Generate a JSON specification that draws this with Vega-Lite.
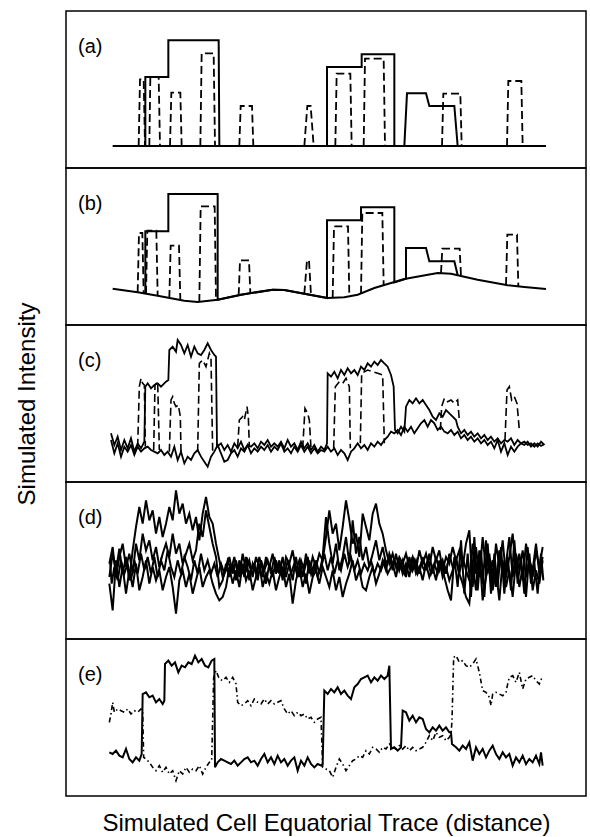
{
"$schema": "https://vega.github.io/schema/vega-lite/v6.json",
"background": "white",
"padding": {"left": 14, "top": 10, "right": 5, "bottom": 0},
"spacing": 0,
"bounds": "flush",
"config": {"view": {"stroke": "black", "strokeWidth": 1.5}, "font": "Liberation Sans"},
"datasets": {
"a_solid": [
{"line":"base","x":140,"y":66},{"line":"base","x":1440,"y":66},
{"line":"t","x":238,"y":66},{"line":"t","x":238,"y":273},{"line":"t","x":307,"y":273},{"line":"t","x":307,"y":383},{"line":"t","x":458,"y":383},{"line":"t","x":460,"y":66},{"line":"t","x":783,"y":66},{"line":"t","x":783,"y":303},{"line":"t","x":887,"y":303},{"line":"t","x":887,"y":341},{"line":"t","x":985,"y":341},{"line":"t","x":985,"y":66},{"line":"t","x":1015,"y":66},{"line":"t","x":1023,"y":224},{"line":"t","x":1080,"y":224},{"line":"t","x":1090,"y":186},{"line":"t","x":1165,"y":186},{"line":"t","x":1175,"y":66}
],
"a_dash": [
{"line":"p1","x":218,"y":66},{"line":"p1","x":222,"y":266},{"line":"p1","x":233,"y":266},{"line":"p1","x":237,"y":66},
{"line":"p2","x":250,"y":66},{"line":"p2","x":253,"y":273},{"line":"p2","x":278,"y":273},{"line":"p2","x":282,"y":66},
{"line":"p3","x":312,"y":66},{"line":"p3","x":316,"y":226},{"line":"p3","x":343,"y":226},{"line":"p3","x":347,"y":66},
{"line":"p4","x":403,"y":66},{"line":"p4","x":407,"y":344},{"line":"p4","x":443,"y":344},{"line":"p4","x":447,"y":66},
{"line":"p5","x":520,"y":66},{"line":"p5","x":524,"y":186},{"line":"p5","x":558,"y":186},{"line":"p5","x":562,"y":66},
{"line":"p6","x":715,"y":66},{"line":"p6","x":724,"y":186},{"line":"p6","x":734,"y":186},{"line":"p6","x":743,"y":66},
{"line":"p7","x":808,"y":66},{"line":"p7","x":812,"y":283},{"line":"p7","x":853,"y":283},{"line":"p7","x":857,"y":66},
{"line":"p8","x":893,"y":66},{"line":"p8","x":897,"y":328},{"line":"p8","x":953,"y":328},{"line":"p8","x":957,"y":66},
{"line":"p9","x":1128,"y":66},{"line":"p9","x":1132,"y":223},{"line":"p9","x":1183,"y":223},{"line":"p9","x":1187,"y":66},
{"line":"p10","x":1323,"y":66},{"line":"p10","x":1327,"y":261},{"line":"p10","x":1366,"y":261},{"line":"p10","x":1370,"y":66}
],
"b_solid": [
{"line":"base","x":140,"y":109},{"line":"base","x":215,"y":98},{"line":"base","x":275,"y":88},{"line":"base","x":355,"y":73},{"line":"base","x":395,"y":69},{"line":"base","x":455,"y":76},{"line":"base","x":525,"y":91},{"line":"base","x":620,"y":106},{"line":"base","x":655,"y":105},{"line":"base","x":715,"y":94},{"line":"base","x":785,"y":81},{"line":"base","x":835,"y":83},{"line":"base","x":875,"y":91},{"line":"base","x":925,"y":111},{"line":"base","x":1015,"y":138},{"line":"base","x":1115,"y":156},{"line":"base","x":1155,"y":154},{"line":"base","x":1235,"y":136},{"line":"base","x":1325,"y":119},{"line":"base","x":1375,"y":114},{"line":"base","x":1440,"y":108},
{"line":"t","x":238,"y":94},{"line":"t","x":238,"y":281},{"line":"t","x":307,"y":281},{"line":"t","x":307,"y":393},{"line":"t","x":455,"y":393},{"line":"t","x":455,"y":76},{"line":"t","x":525,"y":91},{"line":"t","x":620,"y":106},{"line":"t","x":655,"y":105},{"line":"t","x":715,"y":94},{"line":"t","x":783,"y":81},{"line":"t","x":783,"y":314},{"line":"t","x":885,"y":314},{"line":"t","x":885,"y":353},{"line":"t","x":985,"y":353},{"line":"t","x":985,"y":128},{"line":"t","x":1020,"y":139},{"line":"t","x":1020,"y":231},{"line":"t","x":1080,"y":231},{"line":"t","x":1090,"y":191},{"line":"t","x":1165,"y":191},{"line":"t","x":1175,"y":150}
],
"b_dash": [
{"line":"p1","x":215,"y":98},{"line":"p1","x":219,"y":276},{"line":"p1","x":229,"y":276},{"line":"p1","x":233,"y":95},
{"line":"p2","x":240,"y":94},{"line":"p2","x":244,"y":283},{"line":"p2","x":271,"y":283},{"line":"p2","x":275,"y":88},
{"line":"p3","x":310,"y":81},{"line":"p3","x":314,"y":238},{"line":"p3","x":339,"y":238},{"line":"p3","x":343,"y":75},
{"line":"p4","x":400,"y":69},{"line":"p4","x":404,"y":356},{"line":"p4","x":446,"y":356},{"line":"p4","x":450,"y":75},
{"line":"p5","x":518,"y":89},{"line":"p5","x":522,"y":194},{"line":"p5","x":549,"y":194},{"line":"p5","x":553,"y":96},
{"line":"p6","x":715,"y":94},{"line":"p6","x":723,"y":194},{"line":"p6","x":729,"y":194},{"line":"p6","x":735,"y":90},
{"line":"p7","x":800,"y":81},{"line":"p7","x":804,"y":296},{"line":"p7","x":846,"y":296},{"line":"p7","x":850,"y":85},
{"line":"p8","x":885,"y":94},{"line":"p8","x":889,"y":336},{"line":"p8","x":949,"y":336},{"line":"p8","x":953,"y":119},
{"line":"p9","x":1125,"y":156},{"line":"p9","x":1129,"y":229},{"line":"p9","x":1181,"y":229},{"line":"p9","x":1185,"y":147},
{"line":"p10","x":1320,"y":120},{"line":"p10","x":1324,"y":271},{"line":"p10","x":1353,"y":271},{"line":"p10","x":1357,"y":116}
],
"c_solid": [
{"line":"c1","x":135,"y":146},{"line":"c1","x":145,"y":111},{"line":"c1","x":155,"y":136},{"line":"c1","x":165,"y":96},{"line":"c1","x":175,"y":126},{"line":"c1","x":185,"y":101},{"line":"c1","x":195,"y":131},{"line":"c1","x":205,"y":91},{"line":"c1","x":215,"y":116},{"line":"c1","x":225,"y":101},{"line":"c1","x":235,"y":121},{"line":"c1","x":238,"y":286},{"line":"c1","x":245,"y":296},{"line":"c1","x":255,"y":281},{"line":"c1","x":265,"y":291},{"line":"c1","x":275,"y":296},{"line":"c1","x":285,"y":286},{"line":"c1","x":300,"y":301},{"line":"c1","x":307,"y":306},{"line":"c1","x":310,"y":396},{"line":"c1","x":320,"y":406},{"line":"c1","x":330,"y":391},{"line":"c1","x":335,"y":426},{"line":"c1","x":345,"y":411},{"line":"c1","x":355,"y":386},{"line":"c1","x":365,"y":411},{"line":"c1","x":375,"y":376},{"line":"c1","x":385,"y":406},{"line":"c1","x":395,"y":386},{"line":"c1","x":405,"y":381},{"line":"c1","x":415,"y":396},{"line":"c1","x":425,"y":416},{"line":"c1","x":435,"y":396},{"line":"c1","x":445,"y":381},{"line":"c1","x":450,"y":376},{"line":"c1","x":453,"y":106},{"line":"c1","x":465,"y":116},{"line":"c1","x":475,"y":96},{"line":"c1","x":485,"y":111},{"line":"c1","x":495,"y":91},{"line":"c1","x":505,"y":116},{"line":"c1","x":515,"y":101},{"line":"c1","x":525,"y":121},{"line":"c1","x":535,"y":96},{"line":"c1","x":545,"y":111},{"line":"c1","x":555,"y":106},{"line":"c1","x":565,"y":116},{"line":"c1","x":575,"y":101},{"line":"c1","x":585,"y":121},{"line":"c1","x":595,"y":111},{"line":"c1","x":605,"y":126},{"line":"c1","x":615,"y":106},{"line":"c1","x":625,"y":116},{"line":"c1","x":635,"y":106},{"line":"c1","x":645,"y":121},{"line":"c1","x":655,"y":101},{"line":"c1","x":665,"y":126},{"line":"c1","x":675,"y":106},{"line":"c1","x":685,"y":116},{"line":"c1","x":695,"y":96},{"line":"c1","x":705,"y":121},{"line":"c1","x":715,"y":101},{"line":"c1","x":725,"y":116},{"line":"c1","x":735,"y":96},{"line":"c1","x":745,"y":111},{"line":"c1","x":755,"y":91},{"line":"c1","x":765,"y":106},{"line":"c1","x":775,"y":96},{"line":"c1","x":783,"y":116},{"line":"c1","x":785,"y":326},{"line":"c1","x":795,"y":316},{"line":"c1","x":805,"y":331},{"line":"c1","x":815,"y":311},{"line":"c1","x":825,"y":336},{"line":"c1","x":835,"y":321},{"line":"c1","x":845,"y":341},{"line":"c1","x":855,"y":326},{"line":"c1","x":865,"y":336},{"line":"c1","x":875,"y":321},{"line":"c1","x":885,"y":346},{"line":"c1","x":895,"y":336},{"line":"c1","x":905,"y":356},{"line":"c1","x":915,"y":346},{"line":"c1","x":925,"y":361},{"line":"c1","x":935,"y":351},{"line":"c1","x":945,"y":366},{"line":"c1","x":955,"y":356},{"line":"c1","x":965,"y":346},{"line":"c1","x":975,"y":321},{"line":"c1","x":983,"y":286},{"line":"c1","x":987,"y":156},{"line":"c1","x":995,"y":146},{"line":"c1","x":1005,"y":166},{"line":"c1","x":1015,"y":151},{"line":"c1","x":1020,"y":226},{"line":"c1","x":1030,"y":246},{"line":"c1","x":1040,"y":236},{"line":"c1","x":1050,"y":251},{"line":"c1","x":1060,"y":236},{"line":"c1","x":1070,"y":246},{"line":"c1","x":1080,"y":231},{"line":"c1","x":1090,"y":216},{"line":"c1","x":1100,"y":196},{"line":"c1","x":1110,"y":186},{"line":"c1","x":1120,"y":206},{"line":"c1","x":1130,"y":196},{"line":"c1","x":1140,"y":216},{"line":"c1","x":1150,"y":206},{"line":"c1","x":1160,"y":196},{"line":"c1","x":1170,"y":186},{"line":"c1","x":1175,"y":166},{"line":"c1","x":1185,"y":146},{"line":"c1","x":1195,"y":156},{"line":"c1","x":1205,"y":141},{"line":"c1","x":1215,"y":151},{"line":"c1","x":1225,"y":136},{"line":"c1","x":1235,"y":146},{"line":"c1","x":1245,"y":131},{"line":"c1","x":1255,"y":141},{"line":"c1","x":1265,"y":126},{"line":"c1","x":1275,"y":136},{"line":"c1","x":1285,"y":121},{"line":"c1","x":1295,"y":131},{"line":"c1","x":1305,"y":116},{"line":"c1","x":1315,"y":126},{"line":"c1","x":1325,"y":121},{"line":"c1","x":1335,"y":131},{"line":"c1","x":1345,"y":111},{"line":"c1","x":1355,"y":126},{"line":"c1","x":1365,"y":116},{"line":"c1","x":1375,"y":121},{"line":"c1","x":1385,"y":111},{"line":"c1","x":1395,"y":116},{"line":"c1","x":1405,"y":106},{"line":"c1","x":1415,"y":116},{"line":"c1","x":1425,"y":108},{"line":"c1","x":1435,"y":114},
{"line":"c2","x":135,"y":126},{"line":"c2","x":145,"y":86},{"line":"c2","x":155,"y":116},{"line":"c2","x":165,"y":76},{"line":"c2","x":175,"y":106},{"line":"c2","x":185,"y":91},{"line":"c2","x":195,"y":111},{"line":"c2","x":205,"y":81},{"line":"c2","x":215,"y":106},{"line":"c2","x":225,"y":91},{"line":"c2","x":235,"y":101},{"line":"c2","x":245,"y":106},{"line":"c2","x":255,"y":96},{"line":"c2","x":265,"y":91},{"line":"c2","x":275,"y":86},{"line":"c2","x":285,"y":96},{"line":"c2","x":295,"y":81},{"line":"c2","x":305,"y":91},{"line":"c2","x":315,"y":76},{"line":"c2","x":325,"y":106},{"line":"c2","x":335,"y":66},{"line":"c2","x":345,"y":91},{"line":"c2","x":355,"y":56},{"line":"c2","x":365,"y":76},{"line":"c2","x":375,"y":66},{"line":"c2","x":385,"y":86},{"line":"c2","x":395,"y":96},{"line":"c2","x":405,"y":76},{"line":"c2","x":415,"y":61},{"line":"c2","x":425,"y":46},{"line":"c2","x":435,"y":76},{"line":"c2","x":445,"y":91},{"line":"c2","x":455,"y":111},{"line":"c2","x":465,"y":86},{"line":"c2","x":475,"y":61},{"line":"c2","x":485,"y":66},{"line":"c2","x":495,"y":86},{"line":"c2","x":505,"y":96},{"line":"c2","x":515,"y":76},{"line":"c2","x":525,"y":101},{"line":"c2","x":535,"y":91},{"line":"c2","x":545,"y":111},{"line":"c2","x":555,"y":86},{"line":"c2","x":565,"y":101},{"line":"c2","x":575,"y":91},{"line":"c2","x":585,"y":106},{"line":"c2","x":595,"y":96},{"line":"c2","x":605,"y":111},{"line":"c2","x":615,"y":91},{"line":"c2","x":625,"y":106},{"line":"c2","x":635,"y":96},{"line":"c2","x":645,"y":116},{"line":"c2","x":655,"y":91},{"line":"c2","x":665,"y":101},{"line":"c2","x":675,"y":86},{"line":"c2","x":685,"y":106},{"line":"c2","x":695,"y":91},{"line":"c2","x":705,"y":111},{"line":"c2","x":715,"y":91},{"line":"c2","x":725,"y":106},{"line":"c2","x":735,"y":86},{"line":"c2","x":745,"y":101},{"line":"c2","x":755,"y":86},{"line":"c2","x":765,"y":96},{"line":"c2","x":775,"y":91},{"line":"c2","x":785,"y":106},{"line":"c2","x":795,"y":91},{"line":"c2","x":805,"y":101},{"line":"c2","x":815,"y":81},{"line":"c2","x":825,"y":96},{"line":"c2","x":835,"y":86},{"line":"c2","x":845,"y":66},{"line":"c2","x":855,"y":91},{"line":"c2","x":865,"y":101},{"line":"c2","x":875,"y":116},{"line":"c2","x":885,"y":101},{"line":"c2","x":895,"y":111},{"line":"c2","x":905,"y":96},{"line":"c2","x":915,"y":116},{"line":"c2","x":925,"y":106},{"line":"c2","x":935,"y":121},{"line":"c2","x":945,"y":111},{"line":"c2","x":955,"y":126},{"line":"c2","x":965,"y":136},{"line":"c2","x":975,"y":151},{"line":"c2","x":985,"y":146},{"line":"c2","x":995,"y":156},{"line":"c2","x":1005,"y":141},{"line":"c2","x":1015,"y":166},{"line":"c2","x":1025,"y":151},{"line":"c2","x":1035,"y":166},{"line":"c2","x":1045,"y":146},{"line":"c2","x":1055,"y":161},{"line":"c2","x":1065,"y":176},{"line":"c2","x":1075,"y":186},{"line":"c2","x":1085,"y":166},{"line":"c2","x":1095,"y":186},{"line":"c2","x":1105,"y":176},{"line":"c2","x":1115,"y":156},{"line":"c2","x":1125,"y":166},{"line":"c2","x":1135,"y":151},{"line":"c2","x":1145,"y":146},{"line":"c2","x":1155,"y":156},{"line":"c2","x":1165,"y":141},{"line":"c2","x":1175,"y":151},{"line":"c2","x":1185,"y":131},{"line":"c2","x":1195,"y":141},{"line":"c2","x":1205,"y":126},{"line":"c2","x":1215,"y":136},{"line":"c2","x":1225,"y":121},{"line":"c2","x":1235,"y":131},{"line":"c2","x":1245,"y":116},{"line":"c2","x":1255,"y":126},{"line":"c2","x":1265,"y":111},{"line":"c2","x":1275,"y":121},{"line":"c2","x":1285,"y":101},{"line":"c2","x":1295,"y":126},{"line":"c2","x":1305,"y":91},{"line":"c2","x":1315,"y":116},{"line":"c2","x":1325,"y":81},{"line":"c2","x":1335,"y":106},{"line":"c2","x":1345,"y":91},{"line":"c2","x":1355,"y":106},{"line":"c2","x":1365,"y":116},{"line":"c2","x":1375,"y":111},{"line":"c2","x":1385,"y":121},{"line":"c2","x":1395,"y":106},{"line":"c2","x":1405,"y":116},{"line":"c2","x":1415,"y":106},{"line":"c2","x":1425,"y":121},{"line":"c2","x":1435,"y":111}
],
"c_dash": [
{"line":"p1","x":215,"y":106},{"line":"p1","x":220,"y":286},{"line":"p1","x":225,"y":311},{"line":"p1","x":230,"y":296},{"line":"p1","x":235,"y":291},{"line":"p1","x":238,"y":106},
{"line":"p2","x":263,"y":96},{"line":"p2","x":267,"y":291},{"line":"p2","x":275,"y":301},{"line":"p2","x":280,"y":96},
{"line":"p3","x":310,"y":91},{"line":"p3","x":315,"y":246},{"line":"p3","x":320,"y":256},{"line":"p3","x":325,"y":236},{"line":"p3","x":330,"y":226},{"line":"p3","x":337,"y":231},{"line":"p3","x":343,"y":196},{"line":"p3","x":345,"y":91},
{"line":"p4","x":395,"y":91},{"line":"p4","x":400,"y":356},{"line":"p4","x":410,"y":366},{"line":"p4","x":420,"y":346},{"line":"p4","x":430,"y":386},{"line":"p4","x":435,"y":371},{"line":"p4","x":440,"y":91},
{"line":"p5","x":515,"y":106},{"line":"p5","x":520,"y":186},{"line":"p5","x":530,"y":196},{"line":"p5","x":535,"y":186},{"line":"p5","x":543,"y":226},{"line":"p5","x":547,"y":196},{"line":"p5","x":550,"y":106},
{"line":"p6","x":710,"y":101},{"line":"p6","x":717,"y":221},{"line":"p6","x":725,"y":206},{"line":"p6","x":730,"y":186},{"line":"p6","x":735,"y":101},
{"line":"p7","x":803,"y":101},{"line":"p7","x":808,"y":286},{"line":"p7","x":820,"y":301},{"line":"p7","x":830,"y":296},{"line":"p7","x":840,"y":311},{"line":"p7","x":850,"y":286},{"line":"p7","x":853,"y":101},
{"line":"p8","x":883,"y":116},{"line":"p8","x":887,"y":326},{"line":"p8","x":905,"y":336},{"line":"p8","x":920,"y":331},{"line":"p8","x":935,"y":326},{"line":"p8","x":950,"y":321},{"line":"p8","x":955,"y":116},
{"line":"p9","x":1123,"y":156},{"line":"p9","x":1127,"y":226},{"line":"p9","x":1135,"y":251},{"line":"p9","x":1145,"y":241},{"line":"p9","x":1155,"y":246},{"line":"p9","x":1165,"y":236},{"line":"p9","x":1175,"y":246},{"line":"p9","x":1180,"y":186},
{"line":"p10","x":1317,"y":126},{"line":"p10","x":1323,"y":276},{"line":"p10","x":1330,"y":286},{"line":"p10","x":1337,"y":246},{"line":"p10","x":1345,"y":256},{"line":"p10","x":1353,"y":236},{"line":"p10","x":1360,"y":156}
],
"d_solid": [
{"line":"d1","x":130,"y":186},{"line":"d1","x":140,"y":256},{"line":"d1","x":150,"y":206},{"line":"d1","x":160,"y":271},{"line":"d1","x":170,"y":196},{"line":"d1","x":180,"y":246},{"line":"d1","x":190,"y":176},{"line":"d1","x":200,"y":266},{"line":"d1","x":210,"y":336},{"line":"d1","x":220,"y":396},{"line":"d1","x":230,"y":346},{"line":"d1","x":240,"y":416},{"line":"d1","x":250,"y":356},{"line":"d1","x":260,"y":386},{"line":"d1","x":270,"y":316},{"line":"d1","x":280,"y":366},{"line":"d1","x":290,"y":306},{"line":"d1","x":300,"y":346},{"line":"d1","x":310,"y":396},{"line":"d1","x":320,"y":356},{"line":"d1","x":330,"y":446},{"line":"d1","x":340,"y":376},{"line":"d1","x":350,"y":406},{"line":"d1","x":360,"y":346},{"line":"d1","x":370,"y":376},{"line":"d1","x":380,"y":326},{"line":"d1","x":390,"y":366},{"line":"d1","x":400,"y":296},{"line":"d1","x":410,"y":376},{"line":"d1","x":420,"y":426},{"line":"d1","x":430,"y":366},{"line":"d1","x":440,"y":346},{"line":"d1","x":450,"y":286},{"line":"d1","x":460,"y":236},{"line":"d1","x":470,"y":186},{"line":"d1","x":480,"y":206},{"line":"d1","x":490,"y":246},{"line":"d1","x":500,"y":196},{"line":"d1","x":510,"y":236},{"line":"d1","x":520,"y":186},{"line":"d1","x":530,"y":256},{"line":"d1","x":540,"y":206},{"line":"d1","x":550,"y":236},{"line":"d1","x":560,"y":186},{"line":"d1","x":570,"y":246},{"line":"d1","x":580,"y":216},{"line":"d1","x":590,"y":186},{"line":"d1","x":600,"y":246},{"line":"d1","x":610,"y":216},{"line":"d1","x":620,"y":256},{"line":"d1","x":630,"y":196},{"line":"d1","x":640,"y":236},{"line":"d1","x":650,"y":176},{"line":"d1","x":660,"y":246},{"line":"d1","x":670,"y":226},{"line":"d1","x":680,"y":266},{"line":"d1","x":690,"y":206},{"line":"d1","x":700,"y":236},{"line":"d1","x":710,"y":186},{"line":"d1","x":720,"y":256},{"line":"d1","x":730,"y":196},{"line":"d1","x":740,"y":246},{"line":"d1","x":750,"y":216},{"line":"d1","x":760,"y":256},{"line":"d1","x":770,"y":236},{"line":"d1","x":780,"y":306},{"line":"d1","x":790,"y":386},{"line":"d1","x":800,"y":316},{"line":"d1","x":810,"y":346},{"line":"d1","x":820,"y":266},{"line":"d1","x":830,"y":336},{"line":"d1","x":840,"y":416},{"line":"d1","x":850,"y":356},{"line":"d1","x":860,"y":286},{"line":"d1","x":870,"y":316},{"line":"d1","x":880,"y":246},{"line":"d1","x":890,"y":376},{"line":"d1","x":900,"y":336},{"line":"d1","x":910,"y":296},{"line":"d1","x":920,"y":376},{"line":"d1","x":930,"y":406},{"line":"d1","x":940,"y":346},{"line":"d1","x":950,"y":316},{"line":"d1","x":960,"y":266},{"line":"d1","x":970,"y":226},{"line":"d1","x":980,"y":256},{"line":"d1","x":990,"y":216},{"line":"d1","x":1000,"y":246},{"line":"d1","x":1010,"y":226},{"line":"d1","x":1020,"y":256},{"line":"d1","x":1030,"y":216},{"line":"d1","x":1040,"y":246},{"line":"d1","x":1050,"y":206},{"line":"d1","x":1060,"y":266},{"line":"d1","x":1070,"y":226},{"line":"d1","x":1080,"y":256},{"line":"d1","x":1090,"y":216},{"line":"d1","x":1100,"y":276},{"line":"d1","x":1110,"y":236},{"line":"d1","x":1120,"y":266},{"line":"d1","x":1130,"y":206},{"line":"d1","x":1140,"y":246},{"line":"d1","x":1150,"y":226},{"line":"d1","x":1160,"y":276},{"line":"d1","x":1170,"y":236},{"line":"d1","x":1180,"y":266},{"line":"d1","x":1190,"y":216},{"line":"d1","x":1200,"y":286},{"line":"d1","x":1210,"y":326},{"line":"d1","x":1220,"y":156},{"line":"d1","x":1230,"y":276},{"line":"d1","x":1240,"y":186},{"line":"d1","x":1250,"y":306},{"line":"d1","x":1260,"y":206},{"line":"d1","x":1270,"y":256},{"line":"d1","x":1280,"y":166},{"line":"d1","x":1290,"y":286},{"line":"d1","x":1300,"y":216},{"line":"d1","x":1310,"y":296},{"line":"d1","x":1320,"y":186},{"line":"d1","x":1330,"y":246},{"line":"d1","x":1340,"y":316},{"line":"d1","x":1350,"y":206},{"line":"d1","x":1360,"y":256},{"line":"d1","x":1370,"y":176},{"line":"d1","x":1380,"y":286},{"line":"d1","x":1390,"y":226},{"line":"d1","x":1400,"y":186},{"line":"d1","x":1410,"y":266},{"line":"d1","x":1420,"y":216},{"line":"d1","x":1430,"y":276},
{"line":"d2","x":130,"y":166},{"line":"d2","x":140,"y":86},{"line":"d2","x":150,"y":236},{"line":"d2","x":160,"y":156},{"line":"d2","x":170,"y":216},{"line":"d2","x":180,"y":136},{"line":"d2","x":190,"y":206},{"line":"d2","x":200,"y":156},{"line":"d2","x":210,"y":226},{"line":"d2","x":220,"y":146},{"line":"d2","x":230,"y":186},{"line":"d2","x":240,"y":236},{"line":"d2","x":250,"y":166},{"line":"d2","x":260,"y":216},{"line":"d2","x":270,"y":176},{"line":"d2","x":280,"y":206},{"line":"d2","x":290,"y":146},{"line":"d2","x":300,"y":186},{"line":"d2","x":310,"y":216},{"line":"d2","x":320,"y":156},{"line":"d2","x":330,"y":76},{"line":"d2","x":340,"y":176},{"line":"d2","x":350,"y":206},{"line":"d2","x":360,"y":156},{"line":"d2","x":370,"y":196},{"line":"d2","x":380,"y":136},{"line":"d2","x":390,"y":176},{"line":"d2","x":400,"y":216},{"line":"d2","x":410,"y":156},{"line":"d2","x":420,"y":186},{"line":"d2","x":430,"y":206},{"line":"d2","x":440,"y":166},{"line":"d2","x":450,"y":136},{"line":"d2","x":460,"y":116},{"line":"d2","x":470,"y":126},{"line":"d2","x":480,"y":156},{"line":"d2","x":490,"y":216},{"line":"d2","x":500,"y":166},{"line":"d2","x":510,"y":206},{"line":"d2","x":520,"y":156},{"line":"d2","x":530,"y":226},{"line":"d2","x":540,"y":176},{"line":"d2","x":550,"y":206},{"line":"d2","x":560,"y":146},{"line":"d2","x":570,"y":186},{"line":"d2","x":580,"y":226},{"line":"d2","x":590,"y":156},{"line":"d2","x":600,"y":196},{"line":"d2","x":610,"y":166},{"line":"d2","x":620,"y":206},{"line":"d2","x":630,"y":146},{"line":"d2","x":640,"y":186},{"line":"d2","x":650,"y":216},{"line":"d2","x":660,"y":156},{"line":"d2","x":670,"y":196},{"line":"d2","x":680,"y":106},{"line":"d2","x":690,"y":176},{"line":"d2","x":700,"y":216},{"line":"d2","x":710,"y":156},{"line":"d2","x":720,"y":196},{"line":"d2","x":730,"y":136},{"line":"d2","x":740,"y":186},{"line":"d2","x":750,"y":206},{"line":"d2","x":760,"y":166},{"line":"d2","x":770,"y":216},{"line":"d2","x":780,"y":186},{"line":"d2","x":790,"y":156},{"line":"d2","x":800,"y":206},{"line":"d2","x":810,"y":146},{"line":"d2","x":820,"y":186},{"line":"d2","x":830,"y":126},{"line":"d2","x":840,"y":166},{"line":"d2","x":850,"y":196},{"line":"d2","x":860,"y":236},{"line":"d2","x":870,"y":176},{"line":"d2","x":880,"y":206},{"line":"d2","x":890,"y":156},{"line":"d2","x":900,"y":146},{"line":"d2","x":910,"y":186},{"line":"d2","x":920,"y":216},{"line":"d2","x":930,"y":166},{"line":"d2","x":940,"y":196},{"line":"d2","x":950,"y":236},{"line":"d2","x":960,"y":206},{"line":"d2","x":970,"y":256},{"line":"d2","x":980,"y":226},{"line":"d2","x":990,"y":186},{"line":"d2","x":1000,"y":236},{"line":"d2","x":1010,"y":196},{"line":"d2","x":1020,"y":226},{"line":"d2","x":1030,"y":186},{"line":"d2","x":1040,"y":246},{"line":"d2","x":1050,"y":196},{"line":"d2","x":1060,"y":216},{"line":"d2","x":1070,"y":176},{"line":"d2","x":1080,"y":226},{"line":"d2","x":1090,"y":186},{"line":"d2","x":1100,"y":216},{"line":"d2","x":1110,"y":176},{"line":"d2","x":1120,"y":236},{"line":"d2","x":1130,"y":186},{"line":"d2","x":1140,"y":216},{"line":"d2","x":1150,"y":176},{"line":"d2","x":1160,"y":206},{"line":"d2","x":1170,"y":246},{"line":"d2","x":1180,"y":196},{"line":"d2","x":1190,"y":166},{"line":"d2","x":1200,"y":126},{"line":"d2","x":1210,"y":106},{"line":"d2","x":1220,"y":226},{"line":"d2","x":1230,"y":146},{"line":"d2","x":1240,"y":266},{"line":"d2","x":1250,"y":116},{"line":"d2","x":1260,"y":186},{"line":"d2","x":1270,"y":226},{"line":"d2","x":1280,"y":146},{"line":"d2","x":1290,"y":206},{"line":"d2","x":1300,"y":116},{"line":"d2","x":1310,"y":236},{"line":"d2","x":1320,"y":156},{"line":"d2","x":1330,"y":206},{"line":"d2","x":1340,"y":126},{"line":"d2","x":1350,"y":236},{"line":"d2","x":1360,"y":156},{"line":"d2","x":1370,"y":216},{"line":"d2","x":1380,"y":126},{"line":"d2","x":1390,"y":256},{"line":"d2","x":1400,"y":146},{"line":"d2","x":1410,"y":206},{"line":"d2","x":1420,"y":166},{"line":"d2","x":1430,"y":236},
{"line":"d3","x":130,"y":226},{"line":"d3","x":140,"y":276},{"line":"d3","x":150,"y":186},{"line":"d3","x":160,"y":246},{"line":"d3","x":170,"y":286},{"line":"d3","x":180,"y":216},{"line":"d3","x":190,"y":256},{"line":"d3","x":200,"y":196},{"line":"d3","x":210,"y":286},{"line":"d3","x":220,"y":236},{"line":"d3","x":230,"y":316},{"line":"d3","x":240,"y":266},{"line":"d3","x":250,"y":296},{"line":"d3","x":260,"y":236},{"line":"d3","x":270,"y":276},{"line":"d3","x":280,"y":216},{"line":"d3","x":290,"y":256},{"line":"d3","x":300,"y":286},{"line":"d3","x":310,"y":246},{"line":"d3","x":320,"y":316},{"line":"d3","x":330,"y":256},{"line":"d3","x":340,"y":286},{"line":"d3","x":350,"y":226},{"line":"d3","x":360,"y":256},{"line":"d3","x":370,"y":286},{"line":"d3","x":380,"y":236},{"line":"d3","x":390,"y":266},{"line":"d3","x":400,"y":346},{"line":"d3","x":410,"y":306},{"line":"d3","x":420,"y":386},{"line":"d3","x":430,"y":336},{"line":"d3","x":440,"y":286},{"line":"d3","x":450,"y":246},{"line":"d3","x":460,"y":156},{"line":"d3","x":470,"y":176},{"line":"d3","x":480,"y":226},{"line":"d3","x":490,"y":186},{"line":"d3","x":500,"y":226},{"line":"d3","x":510,"y":176},{"line":"d3","x":520,"y":236},{"line":"d3","x":530,"y":196},{"line":"d3","x":540,"y":246},{"line":"d3","x":550,"y":176},{"line":"d3","x":560,"y":226},{"line":"d3","x":570,"y":196},{"line":"d3","x":580,"y":246},{"line":"d3","x":590,"y":206},{"line":"d3","x":600,"y":166},{"line":"d3","x":610,"y":226},{"line":"d3","x":620,"y":186},{"line":"d3","x":630,"y":236},{"line":"d3","x":640,"y":196},{"line":"d3","x":650,"y":246},{"line":"d3","x":660,"y":186},{"line":"d3","x":670,"y":226},{"line":"d3","x":680,"y":176},{"line":"d3","x":690,"y":246},{"line":"d3","x":700,"y":186},{"line":"d3","x":710,"y":226},{"line":"d3","x":720,"y":166},{"line":"d3","x":730,"y":236},{"line":"d3","x":740,"y":186},{"line":"d3","x":750,"y":236},{"line":"d3","x":760,"y":196},{"line":"d3","x":770,"y":246},{"line":"d3","x":780,"y":366},{"line":"d3","x":790,"y":286},{"line":"d3","x":800,"y":226},{"line":"d3","x":810,"y":286},{"line":"d3","x":820,"y":206},{"line":"d3","x":830,"y":246},{"line":"d3","x":840,"y":306},{"line":"d3","x":850,"y":226},{"line":"d3","x":860,"y":356},{"line":"d3","x":870,"y":256},{"line":"d3","x":880,"y":306},{"line":"d3","x":890,"y":236},{"line":"d3","x":900,"y":276},{"line":"d3","x":910,"y":216},{"line":"d3","x":920,"y":256},{"line":"d3","x":930,"y":296},{"line":"d3","x":940,"y":236},{"line":"d3","x":950,"y":276},{"line":"d3","x":960,"y":226},{"line":"d3","x":970,"y":246},{"line":"d3","x":980,"y":206},{"line":"d3","x":990,"y":256},{"line":"d3","x":1000,"y":206},{"line":"d3","x":1010,"y":236},{"line":"d3","x":1020,"y":186},{"line":"d3","x":1030,"y":246},{"line":"d3","x":1040,"y":206},{"line":"d3","x":1050,"y":236},{"line":"d3","x":1060,"y":196},{"line":"d3","x":1070,"y":246},{"line":"d3","x":1080,"y":206},{"line":"d3","x":1090,"y":256},{"line":"d3","x":1100,"y":196},{"line":"d3","x":1110,"y":246},{"line":"d3","x":1120,"y":206},{"line":"d3","x":1130,"y":236},{"line":"d3","x":1140,"y":196},{"line":"d3","x":1150,"y":256},{"line":"d3","x":1160,"y":216},{"line":"d3","x":1170,"y":236},{"line":"d3","x":1180,"y":196},{"line":"d3","x":1190,"y":246},{"line":"d3","x":1200,"y":206},{"line":"d3","x":1210,"y":176},{"line":"d3","x":1220,"y":286},{"line":"d3","x":1230,"y":196},{"line":"d3","x":1240,"y":236},{"line":"d3","x":1250,"y":166},{"line":"d3","x":1260,"y":296},{"line":"d3","x":1270,"y":196},{"line":"d3","x":1280,"y":236},{"line":"d3","x":1290,"y":156},{"line":"d3","x":1300,"y":266},{"line":"d3","x":1310,"y":186},{"line":"d3","x":1320,"y":226},{"line":"d3","x":1330,"y":306},{"line":"d3","x":1340,"y":186},{"line":"d3","x":1350,"y":256},{"line":"d3","x":1360,"y":206},{"line":"d3","x":1370,"y":266},{"line":"d3","x":1380,"y":186},{"line":"d3","x":1390,"y":236},{"line":"d3","x":1400,"y":206},{"line":"d3","x":1410,"y":286},{"line":"d3","x":1420,"y":196},{"line":"d3","x":1430,"y":246},
{"line":"d4","x":132,"y":236},{"line":"d4","x":137,"y":166},{"line":"d4","x":145,"y":216},{"line":"d4","x":155,"y":176},{"line":"d4","x":165,"y":236},{"line":"d4","x":175,"y":196},{"line":"d4","x":185,"y":226},{"line":"d4","x":195,"y":176},{"line":"d4","x":205,"y":236},{"line":"d4","x":215,"y":196},{"line":"d4","x":225,"y":256},{"line":"d4","x":235,"y":206},{"line":"d4","x":245,"y":246},{"line":"d4","x":255,"y":196},{"line":"d4","x":265,"y":246},{"line":"d4","x":275,"y":186},{"line":"d4","x":285,"y":236},{"line":"d4","x":295,"y":206},{"line":"d4","x":305,"y":266},{"line":"d4","x":315,"y":216},{"line":"d4","x":325,"y":186},{"line":"d4","x":335,"y":236},{"line":"d4","x":345,"y":196},{"line":"d4","x":355,"y":246},{"line":"d4","x":365,"y":216},{"line":"d4","x":375,"y":176},{"line":"d4","x":385,"y":236},{"line":"d4","x":395,"y":196},{"line":"d4","x":405,"y":256},{"line":"d4","x":415,"y":206},{"line":"d4","x":425,"y":236},{"line":"d4","x":435,"y":196},{"line":"d4","x":445,"y":226},{"line":"d4","x":455,"y":186},{"line":"d4","x":465,"y":226},{"line":"d4","x":475,"y":196},{"line":"d4","x":485,"y":236},{"line":"d4","x":495,"y":206},{"line":"d4","x":505,"y":246},{"line":"d4","x":515,"y":196},{"line":"d4","x":525,"y":226},{"line":"d4","x":535,"y":186},{"line":"d4","x":545,"y":236},{"line":"d4","x":555,"y":206},{"line":"d4","x":565,"y":226},{"line":"d4","x":575,"y":176},{"line":"d4","x":585,"y":236},{"line":"d4","x":595,"y":206},{"line":"d4","x":605,"y":236},{"line":"d4","x":615,"y":196},{"line":"d4","x":625,"y":246},{"line":"d4","x":635,"y":206},{"line":"d4","x":645,"y":226},{"line":"d4","x":655,"y":186},{"line":"d4","x":665,"y":236},{"line":"d4","x":675,"y":196},{"line":"d4","x":685,"y":226},{"line":"d4","x":695,"y":186},{"line":"d4","x":705,"y":236},{"line":"d4","x":715,"y":206},{"line":"d4","x":725,"y":246},{"line":"d4","x":735,"y":196},{"line":"d4","x":745,"y":226},{"line":"d4","x":755,"y":186},{"line":"d4","x":765,"y":216},{"line":"d4","x":775,"y":256},{"line":"d4","x":785,"y":206},{"line":"d4","x":795,"y":246},{"line":"d4","x":805,"y":196},{"line":"d4","x":815,"y":236},{"line":"d4","x":825,"y":206},{"line":"d4","x":835,"y":256},{"line":"d4","x":845,"y":216},{"line":"d4","x":855,"y":246},{"line":"d4","x":865,"y":206},{"line":"d4","x":875,"y":236},{"line":"d4","x":885,"y":196},{"line":"d4","x":895,"y":226},{"line":"d4","x":905,"y":206},{"line":"d4","x":915,"y":236},{"line":"d4","x":925,"y":196},{"line":"d4","x":935,"y":226},{"line":"d4","x":945,"y":206},{"line":"d4","x":955,"y":236},{"line":"d4","x":965,"y":196},{"line":"d4","x":975,"y":216},{"line":"d4","x":985,"y":236},{"line":"d4","x":995,"y":206},{"line":"d4","x":1005,"y":226},{"line":"d4","x":1015,"y":196},{"line":"d4","x":1025,"y":226},{"line":"d4","x":1035,"y":206},{"line":"d4","x":1045,"y":236},{"line":"d4","x":1055,"y":196},{"line":"d4","x":1065,"y":226},{"line":"d4","x":1075,"y":206},{"line":"d4","x":1085,"y":236},{"line":"d4","x":1095,"y":196},{"line":"d4","x":1105,"y":226},{"line":"d4","x":1115,"y":196},{"line":"d4","x":1125,"y":236},{"line":"d4","x":1135,"y":186},{"line":"d4","x":1145,"y":146},{"line":"d4","x":1155,"y":116},{"line":"d4","x":1165,"y":246},{"line":"d4","x":1175,"y":156},{"line":"d4","x":1185,"y":296},{"line":"d4","x":1195,"y":136},{"line":"d4","x":1205,"y":256},{"line":"d4","x":1215,"y":126},{"line":"d4","x":1225,"y":306},{"line":"d4","x":1235,"y":146},{"line":"d4","x":1245,"y":266},{"line":"d4","x":1255,"y":126},{"line":"d4","x":1265,"y":286},{"line":"d4","x":1275,"y":136},{"line":"d4","x":1285,"y":256},{"line":"d4","x":1295,"y":156},{"line":"d4","x":1305,"y":276},{"line":"d4","x":1315,"y":136},{"line":"d4","x":1325,"y":246},{"line":"d4","x":1335,"y":146},{"line":"d4","x":1345,"y":296},{"line":"d4","x":1355,"y":166},{"line":"d4","x":1365,"y":246},{"line":"d4","x":1375,"y":136},{"line":"d4","x":1385,"y":276},{"line":"d4","x":1395,"y":166},{"line":"d4","x":1405,"y":226},{"line":"d4","x":1415,"y":136},{"line":"d4","x":1425,"y":256},{"line":"d4","x":1432,"y":176}
],
"e_solid": [
{"line":"e1","x":130,"y":131},{"line":"e1","x":140,"y":126},{"line":"e1","x":150,"y":136},{"line":"e1","x":160,"y":121},{"line":"e1","x":170,"y":116},{"line":"e1","x":180,"y":141},{"line":"e1","x":190,"y":111},{"line":"e1","x":200,"y":101},{"line":"e1","x":210,"y":116},{"line":"e1","x":220,"y":106},{"line":"e1","x":227,"y":126},{"line":"e1","x":230,"y":306},{"line":"e1","x":240,"y":311},{"line":"e1","x":250,"y":296},{"line":"e1","x":260,"y":301},{"line":"e1","x":270,"y":281},{"line":"e1","x":280,"y":291},{"line":"e1","x":290,"y":276},{"line":"e1","x":295,"y":286},{"line":"e1","x":297,"y":396},{"line":"e1","x":307,"y":406},{"line":"e1","x":317,"y":391},{"line":"e1","x":327,"y":401},{"line":"e1","x":337,"y":371},{"line":"e1","x":347,"y":391},{"line":"e1","x":357,"y":386},{"line":"e1","x":367,"y":401},{"line":"e1","x":377,"y":396},{"line":"e1","x":387,"y":421},{"line":"e1","x":397,"y":401},{"line":"e1","x":407,"y":411},{"line":"e1","x":417,"y":391},{"line":"e1","x":427,"y":386},{"line":"e1","x":437,"y":406},{"line":"e1","x":445,"y":411},{"line":"e1","x":447,"y":86},{"line":"e1","x":455,"y":101},{"line":"e1","x":465,"y":111},{"line":"e1","x":475,"y":106},{"line":"e1","x":485,"y":101},{"line":"e1","x":495,"y":96},{"line":"e1","x":505,"y":106},{"line":"e1","x":515,"y":91},{"line":"e1","x":525,"y":101},{"line":"e1","x":535,"y":111},{"line":"e1","x":545,"y":116},{"line":"e1","x":555,"y":101},{"line":"e1","x":565,"y":106},{"line":"e1","x":575,"y":91},{"line":"e1","x":585,"y":111},{"line":"e1","x":595,"y":126},{"line":"e1","x":605,"y":101},{"line":"e1","x":615,"y":116},{"line":"e1","x":625,"y":96},{"line":"e1","x":635,"y":121},{"line":"e1","x":645,"y":101},{"line":"e1","x":655,"y":111},{"line":"e1","x":665,"y":91},{"line":"e1","x":675,"y":106},{"line":"e1","x":685,"y":116},{"line":"e1","x":695,"y":76},{"line":"e1","x":705,"y":106},{"line":"e1","x":715,"y":91},{"line":"e1","x":725,"y":116},{"line":"e1","x":735,"y":96},{"line":"e1","x":745,"y":86},{"line":"e1","x":755,"y":96},{"line":"e1","x":767,"y":91},{"line":"e1","x":770,"y":96},{"line":"e1","x":775,"y":316},{"line":"e1","x":785,"y":306},{"line":"e1","x":795,"y":321},{"line":"e1","x":805,"y":311},{"line":"e1","x":815,"y":326},{"line":"e1","x":825,"y":306},{"line":"e1","x":835,"y":316},{"line":"e1","x":845,"y":301},{"line":"e1","x":855,"y":291},{"line":"e1","x":865,"y":326},{"line":"e1","x":875,"y":336},{"line":"e1","x":885,"y":351},{"line":"e1","x":895,"y":356},{"line":"e1","x":905,"y":361},{"line":"e1","x":915,"y":341},{"line":"e1","x":925,"y":356},{"line":"e1","x":935,"y":346},{"line":"e1","x":945,"y":361},{"line":"e1","x":955,"y":351},{"line":"e1","x":965,"y":361},{"line":"e1","x":970,"y":391},{"line":"e1","x":975,"y":141},{"line":"e1","x":985,"y":146},{"line":"e1","x":995,"y":136},{"line":"e1","x":1005,"y":146},{"line":"e1","x":1010,"y":256},{"line":"e1","x":1020,"y":251},{"line":"e1","x":1030,"y":226},{"line":"e1","x":1040,"y":241},{"line":"e1","x":1050,"y":221},{"line":"e1","x":1060,"y":236},{"line":"e1","x":1070,"y":231},{"line":"e1","x":1080,"y":201},{"line":"e1","x":1090,"y":191},{"line":"e1","x":1100,"y":206},{"line":"e1","x":1110,"y":196},{"line":"e1","x":1120,"y":211},{"line":"e1","x":1130,"y":196},{"line":"e1","x":1140,"y":206},{"line":"e1","x":1150,"y":191},{"line":"e1","x":1155,"y":191},{"line":"e1","x":1158,"y":156},{"line":"e1","x":1170,"y":146},{"line":"e1","x":1180,"y":136},{"line":"e1","x":1190,"y":151},{"line":"e1","x":1200,"y":141},{"line":"e1","x":1210,"y":161},{"line":"e1","x":1220,"y":106},{"line":"e1","x":1230,"y":146},{"line":"e1","x":1240,"y":126},{"line":"e1","x":1250,"y":141},{"line":"e1","x":1260,"y":116},{"line":"e1","x":1270,"y":136},{"line":"e1","x":1280,"y":151},{"line":"e1","x":1290,"y":126},{"line":"e1","x":1300,"y":111},{"line":"e1","x":1310,"y":131},{"line":"e1","x":1320,"y":116},{"line":"e1","x":1330,"y":126},{"line":"e1","x":1340,"y":91},{"line":"e1","x":1350,"y":116},{"line":"e1","x":1360,"y":101},{"line":"e1","x":1370,"y":121},{"line":"e1","x":1380,"y":96},{"line":"e1","x":1390,"y":111},{"line":"e1","x":1400,"y":101},{"line":"e1","x":1410,"y":121},{"line":"e1","x":1420,"y":96},{"line":"e1","x":1425,"y":131},{"line":"e1","x":1430,"y":91}
],
"e_dot": [
{"line":"e2","x":130,"y":221},{"line":"e2","x":135,"y":246},{"line":"e2","x":140,"y":281},{"line":"e2","x":145,"y":251},{"line":"e2","x":155,"y":261},{"line":"e2","x":165,"y":256},{"line":"e2","x":175,"y":251},{"line":"e2","x":185,"y":261},{"line":"e2","x":195,"y":246},{"line":"e2","x":205,"y":256},{"line":"e2","x":215,"y":251},{"line":"e2","x":225,"y":261},{"line":"e2","x":230,"y":256},{"line":"e2","x":233,"y":116},{"line":"e2","x":240,"y":111},{"line":"e2","x":250,"y":101},{"line":"e2","x":260,"y":86},{"line":"e2","x":270,"y":76},{"line":"e2","x":280,"y":91},{"line":"e2","x":290,"y":71},{"line":"e2","x":300,"y":86},{"line":"e2","x":310,"y":66},{"line":"e2","x":320,"y":76},{"line":"e2","x":330,"y":46},{"line":"e2","x":340,"y":76},{"line":"e2","x":350,"y":66},{"line":"e2","x":360,"y":86},{"line":"e2","x":370,"y":71},{"line":"e2","x":380,"y":81},{"line":"e2","x":390,"y":76},{"line":"e2","x":400,"y":91},{"line":"e2","x":410,"y":66},{"line":"e2","x":420,"y":86},{"line":"e2","x":430,"y":101},{"line":"e2","x":437,"y":106},{"line":"e2","x":443,"y":356},{"line":"e2","x":450,"y":376},{"line":"e2","x":460,"y":351},{"line":"e2","x":470,"y":346},{"line":"e2","x":480,"y":356},{"line":"e2","x":490,"y":341},{"line":"e2","x":500,"y":356},{"line":"e2","x":510,"y":336},{"line":"e2","x":515,"y":281},{"line":"e2","x":525,"y":271},{"line":"e2","x":535,"y":276},{"line":"e2","x":545,"y":286},{"line":"e2","x":555,"y":271},{"line":"e2","x":565,"y":291},{"line":"e2","x":575,"y":281},{"line":"e2","x":585,"y":276},{"line":"e2","x":595,"y":291},{"line":"e2","x":605,"y":276},{"line":"e2","x":615,"y":286},{"line":"e2","x":625,"y":276},{"line":"e2","x":635,"y":281},{"line":"e2","x":645,"y":286},{"line":"e2","x":655,"y":261},{"line":"e2","x":665,"y":246},{"line":"e2","x":675,"y":256},{"line":"e2","x":685,"y":241},{"line":"e2","x":695,"y":251},{"line":"e2","x":705,"y":241},{"line":"e2","x":715,"y":246},{"line":"e2","x":725,"y":231},{"line":"e2","x":735,"y":236},{"line":"e2","x":745,"y":221},{"line":"e2","x":755,"y":231},{"line":"e2","x":765,"y":236},{"line":"e2","x":770,"y":86},{"line":"e2","x":780,"y":81},{"line":"e2","x":790,"y":76},{"line":"e2","x":800,"y":56},{"line":"e2","x":810,"y":86},{"line":"e2","x":820,"y":111},{"line":"e2","x":830,"y":96},{"line":"e2","x":840,"y":76},{"line":"e2","x":850,"y":91},{"line":"e2","x":860,"y":106},{"line":"e2","x":870,"y":111},{"line":"e2","x":880,"y":121},{"line":"e2","x":890,"y":116},{"line":"e2","x":900,"y":136},{"line":"e2","x":910,"y":126},{"line":"e2","x":920,"y":146},{"line":"e2","x":930,"y":141},{"line":"e2","x":940,"y":131},{"line":"e2","x":950,"y":146},{"line":"e2","x":960,"y":141},{"line":"e2","x":970,"y":156},{"line":"e2","x":980,"y":146},{"line":"e2","x":990,"y":141},{"line":"e2","x":1000,"y":151},{"line":"e2","x":1010,"y":141},{"line":"e2","x":1020,"y":151},{"line":"e2","x":1030,"y":136},{"line":"e2","x":1040,"y":146},{"line":"e2","x":1050,"y":136},{"line":"e2","x":1060,"y":141},{"line":"e2","x":1070,"y":146},{"line":"e2","x":1080,"y":161},{"line":"e2","x":1090,"y":181},{"line":"e2","x":1100,"y":166},{"line":"e2","x":1110,"y":191},{"line":"e2","x":1120,"y":176},{"line":"e2","x":1130,"y":181},{"line":"e2","x":1140,"y":166},{"line":"e2","x":1150,"y":176},{"line":"e2","x":1155,"y":186},{"line":"e2","x":1158,"y":226},{"line":"e2","x":1163,"y":416},{"line":"e2","x":1170,"y":421},{"line":"e2","x":1180,"y":401},{"line":"e2","x":1190,"y":406},{"line":"e2","x":1200,"y":391},{"line":"e2","x":1210,"y":386},{"line":"e2","x":1220,"y":396},{"line":"e2","x":1230,"y":411},{"line":"e2","x":1235,"y":391},{"line":"e2","x":1240,"y":371},{"line":"e2","x":1250,"y":316},{"line":"e2","x":1260,"y":311},{"line":"e2","x":1270,"y":296},{"line":"e2","x":1275,"y":271},{"line":"e2","x":1280,"y":306},{"line":"e2","x":1290,"y":311},{"line":"e2","x":1300,"y":306},{"line":"e2","x":1310,"y":301},{"line":"e2","x":1320,"y":311},{"line":"e2","x":1325,"y":336},{"line":"e2","x":1330,"y":356},{"line":"e2","x":1340,"y":361},{"line":"e2","x":1350,"y":341},{"line":"e2","x":1360,"y":371},{"line":"e2","x":1370,"y":321},{"line":"e2","x":1380,"y":351},{"line":"e2","x":1390,"y":356},{"line":"e2","x":1400,"y":361},{"line":"e2","x":1410,"y":346},{"line":"e2","x":1420,"y":336},{"line":"e2","x":1430,"y":361}
]
},
"vconcat": [
{
"width": 520, "height": 157,
"encoding": {
"x": {"field": "x", "type": "quantitative", "scale": {"domain": [0, 1560], "nice": false, "zero": false}, "axis": null},
"y": {"field": "y", "type": "quantitative", "scale": {"domain": [0, 471], "nice": false, "zero": false}, "axis": null}
},
"layer": [
{"data": {"name": "a_solid"}, "mark": {"type": "line", "color": "black", "strokeWidth": 2}, "encoding": {"detail": {"field": "line"}, "order": {"value": null}}},
{"data": {"name": "a_dash"}, "mark": {"type": "line", "color": "black", "strokeWidth": 1.8, "strokeDash": [8, 4]}, "encoding": {"detail": {"field": "line"}, "order": {"value": null}}},
{"data": {"values": [{"label": "(a)", "x": 36, "y": 363}]}, "mark": {"type": "text", "align": "left", "baseline": "middle", "fontSize": 20, "font": "Liberation Sans", "color": "black"}, "encoding": {"text": {"field": "label"}}}
]
},
{
"width": 520, "height": 157,
"encoding": {
"x": {"field": "x", "type": "quantitative", "scale": {"domain": [0, 1560], "nice": false, "zero": false}, "axis": null},
"y": {"field": "y", "type": "quantitative", "scale": {"domain": [0, 471], "nice": false, "zero": false}, "axis": null}
},
"layer": [
{"data": {"name": "b_solid"}, "mark": {"type": "line", "color": "black", "strokeWidth": 2}, "encoding": {"detail": {"field": "line"}, "order": {"value": null}}},
{"data": {"name": "b_dash"}, "mark": {"type": "line", "color": "black", "strokeWidth": 1.8, "strokeDash": [8, 4]}, "encoding": {"detail": {"field": "line"}, "order": {"value": null}}},
{"data": {"values": [{"label": "(b)", "x": 36, "y": 363}]}, "mark": {"type": "text", "align": "left", "baseline": "middle", "fontSize": 20, "font": "Liberation Sans", "color": "black"}, "encoding": {"text": {"field": "label"}}}
]
},
{
"width": 520, "height": 157,
"encoding": {
"x": {"field": "x", "type": "quantitative", "scale": {"domain": [0, 1560], "nice": false, "zero": false}, "axis": null},
"y": {"field": "y", "type": "quantitative", "scale": {"domain": [0, 471], "nice": false, "zero": false}, "axis": {"title": "Simulated Intensity", "labels": false, "ticks": false, "domain": false, "grid": false, "titleFont": "Liberation Sans", "titleFontSize": 24, "titleFontWeight": "normal", "titleColor": "black", "titlePadding": 27}}
},
"layer": [
{"data": {"name": "c_solid"}, "mark": {"type": "line", "color": "black", "strokeWidth": 1.8}, "encoding": {"detail": {"field": "line"}, "order": {"value": null}}},
{"data": {"name": "c_dash"}, "mark": {"type": "line", "color": "black", "strokeWidth": 1.6, "strokeDash": [8, 4]}, "encoding": {"detail": {"field": "line"}, "order": {"value": null}}},
{"data": {"values": [{"label": "(c)", "x": 36, "y": 363}]}, "mark": {"type": "text", "align": "left", "baseline": "middle", "fontSize": 20, "font": "Liberation Sans", "color": "black"}, "encoding": {"text": {"field": "label"}}}
]
},
{
"width": 520, "height": 157,
"encoding": {
"x": {"field": "x", "type": "quantitative", "scale": {"domain": [0, 1560], "nice": false, "zero": false}, "axis": null},
"y": {"field": "y", "type": "quantitative", "scale": {"domain": [0, 471], "nice": false, "zero": false}, "axis": null}
},
"layer": [
{"data": {"name": "d_solid"}, "mark": {"type": "line", "color": "black", "strokeWidth": 2}, "encoding": {"detail": {"field": "line"}, "order": {"value": null}}},
{"data": {"values": [{"label": "(d)", "x": 36, "y": 363}]}, "mark": {"type": "text", "align": "left", "baseline": "middle", "fontSize": 20, "font": "Liberation Sans", "color": "black"}, "encoding": {"text": {"field": "label"}}}
]
},
{
"width": 520, "height": 157,
"encoding": {
"x": {"field": "x", "type": "quantitative", "scale": {"domain": [0, 1560], "nice": false, "zero": false}, "axis": {"title": "Simulated Cell Equatorial Trace (distance)", "labels": false, "ticks": false, "domain": false, "grid": false, "titleFont": "Liberation Sans", "titleFontSize": 24, "titleFontWeight": "normal", "titleColor": "black", "titlePadding": 15}},
"y": {"field": "y", "type": "quantitative", "scale": {"domain": [0, 471], "nice": false, "zero": false}, "axis": null}
},
"layer": [
{"data": {"name": "e_solid"}, "mark": {"type": "line", "color": "black", "strokeWidth": 2}, "encoding": {"detail": {"field": "line"}, "order": {"value": null}}},
{"data": {"name": "e_dot"}, "mark": {"type": "line", "color": "black", "strokeWidth": 1.6, "strokeDash": [5, 3, 1.5, 3]}, "encoding": {"detail": {"field": "line"}, "order": {"value": null}}},
{"data": {"values": [{"label": "(e)", "x": 36, "y": 363}]}, "mark": {"type": "text", "align": "left", "baseline": "middle", "fontSize": 20, "font": "Liberation Sans", "color": "black"}, "encoding": {"text": {"field": "label"}}}
]
}
]
}
